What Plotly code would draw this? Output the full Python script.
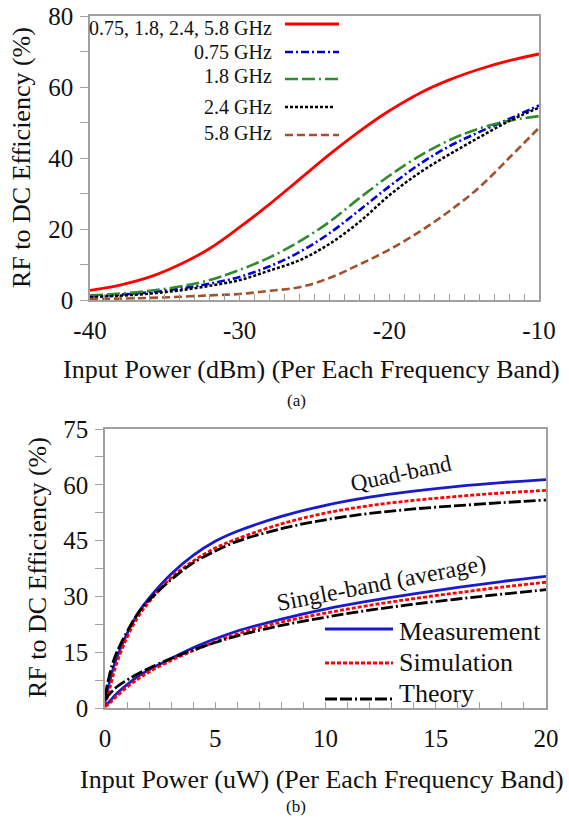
import plotly.graph_objects as go

W, H = 569, 823
FONT = "Liberation Serif"

# (a) efficiency vs input power in dBm
pin_dbm = [-40, -38, -36, -34, -32, -30, -28, -26, -24, -22, -20, -18, -16, -14, -12, -10]
eff_quad = [2.7, 4.2, 6.5, 10, 14.5, 20.5, 27, 34, 41, 47.5, 53.3, 58.2, 62, 65, 67.4, 69.3]
eff_075 = [1.0, 1.5, 2.2, 3.2, 4.6, 6.5, 9.5, 13.5, 18.8, 25.3, 32, 38.2, 43.3, 47.3, 51, 54.8]
eff_18 = [1.3, 1.8, 2.6, 3.8, 5.6, 8.5, 12, 16.5, 22, 28.7, 35, 40.5, 45, 48.3, 50.5, 51.8]
eff_24 = [0.8, 1.2, 1.8, 2.7, 4.0, 5.6, 8.3, 11.2, 15.8, 22, 29.5, 35.8, 41, 45.8, 50.4, 54.2]
eff_58 = [0.3, 0.4, 0.6, 0.9, 1.3, 1.7, 2.6, 3.6, 6.2, 10, 14.2, 19.2, 25, 31.7, 40, 48.5]

legend_a = ["0.75, 1.8, 2.4, 5.8 GHz", "0.75 GHz", "1.8 GHz", "2.4 GHz", "5.8 GHz"]

# (b) efficiency vs input power in uW
pin_uw = [0, 0.25, 0.5, 1, 1.5, 2, 3, 4, 5, 6, 8, 10, 12, 14, 16, 18, 20]
quad_meas = [1.5, 8, 13, 20, 25.5, 29.5, 36, 41, 44.8, 47.5, 51.5, 54.5, 56.7, 58.3, 59.6, 60.6, 61.4]
quad_sim = [0.5, 6, 11.5, 19, 24.5, 28.5, 35, 39.5, 43, 45.5, 49.5, 52.4, 54.4, 55.8, 56.9, 57.8, 58.5]
quad_theory = [3, 10, 14.5, 20.5, 25.5, 29, 34.5, 39, 42.2, 44.8, 48.2, 50.6, 52.3, 53.5, 54.4, 55.2, 55.9]
single_meas = [0.5, 2, 3.7, 6.3, 8.5, 10.3, 13.3, 16.2, 18.6, 20.7, 23.9, 26.6, 28.8, 30.7, 32.4, 34, 35.4]
single_sim = [0.3, 1.5, 3, 5.6, 7.8, 9.7, 12.8, 15.4, 17.8, 19.9, 23.1, 25.5, 27.6, 29.4, 31, 32.5, 33.8]
single_theory = [2.3, 4, 5.5, 7.5, 9.2, 10.7, 13.3, 15.6, 17.6, 19.4, 22.2, 24.4, 26.3, 27.9, 29.3, 30.6, 31.8]

legend_b = ["Measurement", "Simulation", "Theory"]


def px(x):
    return x / W


def py(y):
    return 1 - y / H


styles_a = [
    dict(color="#ff0000", width=2.8, dash="solid"),
    dict(color="#0000dd", width=2.6, dash="8px,3px,2px,3px"),
    dict(color="#2e8b2e", width=2.6, dash="13px,4px,13px,4px,2px,4px"),
    dict(color="#000000", width=2.5, dash="3px,2px"),
    dict(color="#a0522d", width=2.6, dash="8px,4px"),
]
styles_b = [
    dict(color="#1a1acd", width=2.8, dash="solid"),
    dict(color="#ff0000", width=2.8, dash="4px,2px"),
    dict(color="#000000", width=2.8, dash="12px,3px,12px,3px,2px,3px"),
]

fig = go.Figure()

for name, ys, st in zip(legend_a, [eff_quad, eff_075, eff_18, eff_24, eff_58], styles_a):
    fig.add_trace(go.Scatter(x=pin_dbm, y=ys, name=name, mode="lines",
                             line=dict(shape="spline", smoothing=1, **st),
                             xaxis="x", yaxis="y", showlegend=False))

for group, series in [("Quad-band", [quad_meas, quad_sim, quad_theory]),
                      ("Single-band", [single_meas, single_sim, single_theory])]:
    for name, ys, st in zip(legend_b, series, styles_b):
        fig.add_trace(go.Scatter(x=pin_uw, y=ys, name=f"{group} {name}", mode="lines",
                                 line=dict(shape="spline", smoothing=1, **st),
                                 xaxis="x2", yaxis="y2", showlegend=False))

axis_common = dict(showline=True, linecolor="#a0a0a0", linewidth=1.5, mirror=True,
                   showgrid=False, zeroline=False, tickcolor="#a0a0a0", automargin=False,
                   tickfont=dict(family=FONT, size=25, color="#111"))

fig.update_layout(
    width=W, height=H, autosize=False,
    margin=dict(l=0, r=0, t=0, b=0),
    paper_bgcolor="white", plot_bgcolor="white",
    font=dict(family=FONT, color="#111"),
    xaxis=dict(domain=[px(90), px(539)], range=[-40, -10], tickvals=[-40, -30, -20, -10],
               ticktext=["-40", "-30", "-20", "-10"],
               ticks="inside", ticklen=6, ticklabelstandoff=7,
               minor=dict(ticks="inside", dtick=1, tick0=-40, ticklen=6, tickcolor="#a0a0a0"),
               anchor="y", **axis_common),
    yaxis=dict(domain=[py(300), py(16)], range=[0, 80], dtick=20,
               ticks="outside", ticklen=8, ticklabelstandoff=2,
               minor=dict(ticks="outside", dtick=10, ticklen=8, tickcolor="#a0a0a0"),
               anchor="x", **axis_common),
    xaxis2=dict(domain=[px(105), px(546)], range=[0, 20], dtick=5,
                ticks="inside", ticklen=6, ticklabelstandoff=7,
                minor=dict(ticks="inside", dtick=1, ticklen=6, tickcolor="#a0a0a0"),
                anchor="y2", **axis_common),
    yaxis2=dict(domain=[py(708), py(429)], range=[0, 75], dtick=15,
                ticks="outside", ticklen=8, ticklabelstandoff=2,
                minor=dict(ticks="outside", dtick=7.5, ticklen=8, tickcolor="#a0a0a0"),
                anchor="x2", **axis_common),
)

ann = []
shapes = []

# axis titles and captions
title_font = dict(family=FONT, size=26, color="#111")
ann.append(dict(text="Input Power (dBm) (Per Each Frequency Band)", x=px(311), y=py(369),
                font=title_font))
ann.append(dict(text="RF to DC Efficiency (%)", x=px(21), y=py(158), textangle=-90,
                font=title_font))
ann.append(dict(text="Input Power (uW) (Per Each Frequency Band)", x=px(322), y=py(779),
                font=title_font))
ann.append(dict(text="RF to DC Efficiency (%)", x=px(37), y=py(568), textangle=-90,
                font=title_font))
ann.append(dict(text="(a)", x=px(296), y=py(400),
                font=dict(family=FONT, size=17, color="#111")))
ann.append(dict(text="(b)", x=px(296), y=py(806),
                font=dict(family=FONT, size=17, color="#111")))

# curve labels in (b)
ann.append(dict(text="Quad-band", x=px(401), y=py(474), textangle=-12,
                font=dict(family=FONT, size=23, color="#111")))
ann.append(dict(text="Single-band (average)", x=px(381), y=py(583), textangle=-11,
                font=dict(family=FONT, size=24, color="#111")))

# legend (a): text right-aligned, sample on the right
rows_a = [(28, 24), (52, 52), (76, 79), (107, 107), (133, 135)]
for name, st, (ty, ly) in zip(legend_a, styles_a, rows_a):
    ann.append(dict(text=name, x=px(274), y=py(ty), xanchor="right",
                    font=dict(family=FONT, size=20, color="#111")))
    x1 = 335 if st["color"] == "#000000" else 339
    shapes.append(dict(type="line", xref="paper", yref="paper", x0=px(285), x1=px(x1),
                       y0=py(ly), y1=py(ly), line=st))

# legend (b): sample on the left, text after
rows_b = [(631, 629), (662, 663), (693, 699)]
for name, st, (ty, ly) in zip(legend_b, styles_b, rows_b):
    ann.append(dict(text=name, x=px(397), y=py(ty), xanchor="left",
                    font=dict(family=FONT, size=26, color="#111")))
    shapes.append(dict(type="line", xref="paper", yref="paper", x0=px(325), x1=px(393),
                       y0=py(ly), y1=py(ly), line=st))

for a in ann:
    a.setdefault("xref", "paper")
    a.setdefault("yref", "paper")
    a.setdefault("xanchor", "center")
    a.setdefault("yanchor", "middle")
    a.setdefault("showarrow", False)
fig.update_layout(annotations=ann, shapes=shapes)

fig.write_html("out.html", post_script="document.body.style.margin='0';",
               config={"displayModeBar": False})
